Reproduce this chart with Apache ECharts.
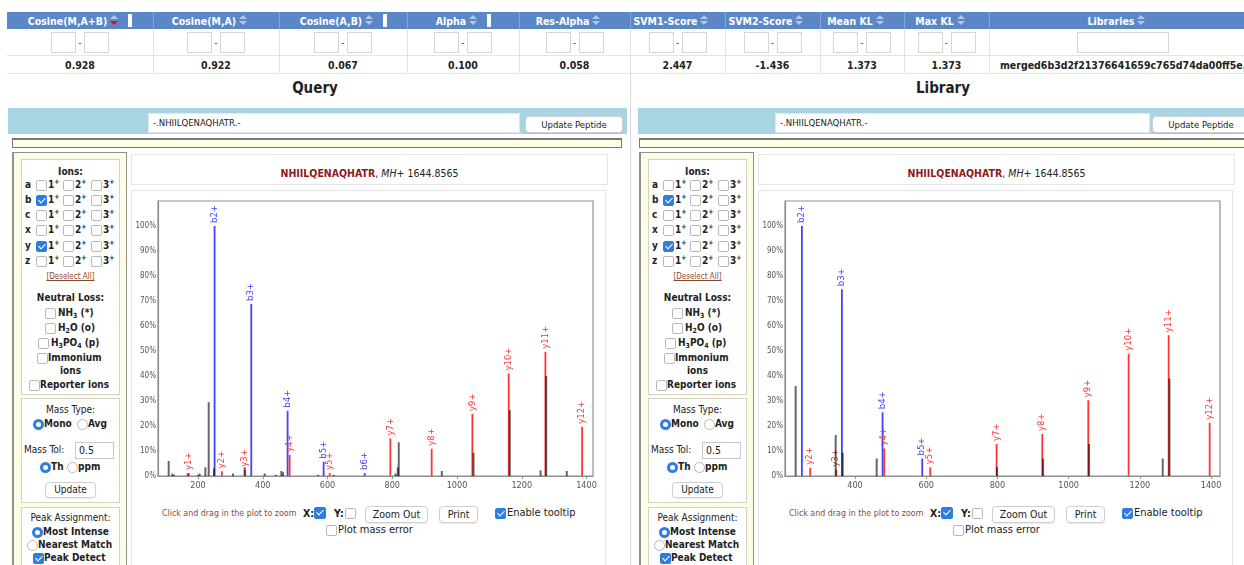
<!DOCTYPE html>
<html><head><meta charset="utf-8">
<script src="https://cdn.jsdelivr.net/npm/echarts@6/dist/echarts.min.js"></script>
<style>
body{margin:0;width:1244px;height:565px;overflow:hidden;background:#fff;position:relative;font-family:"DejaVu Sans Condensed","DejaVu Sans",sans-serif;color:#222}
.a{position:absolute;white-space:nowrap;box-sizing:border-box}
.t{position:absolute;white-space:nowrap;line-height:14px;height:14px;font-size:10px}
.c{transform:translateX(-50%)}
.b{font-weight:bold}
input.cb,input.rd{appearance:none;-webkit-appearance:none;position:absolute;margin:0;width:11px;height:11px;border:1px solid #b8b8b8;border-radius:2px;background:#fff;box-sizing:border-box}
input.cb:checked{background:#2f7de1;border-color:#2f7de1}
input.cb:checked::after{content:'';position:absolute;left:3px;top:0px;width:3px;height:6px;border:solid #fff;border-width:0 1.5px 1.5px 0;transform:rotate(45deg)}
input.rd{border-radius:50%}
input.rd:checked{border:3.5px solid #2f7de1;background:#fff}
.btn{position:absolute;box-sizing:border-box;background:#fff;border:1px solid #cfcfcf;border-radius:4px;font-size:10px;text-align:center;color:#222;box-shadow:0 1px 1px rgba(0,0,0,0.08)}
.hd{position:absolute;top:12px;height:17px;display:flex;align-items:center;justify-content:center;color:#fff;font-weight:bold;font-size:10.5px;box-sizing:border-box;border-left:1px solid #86a6d6}
.ar{display:inline-block;width:8px;height:11px;position:relative;margin-left:3px}
.ar i{position:absolute;left:0;width:0;height:0;border-left:4px solid transparent;border-right:4px solid transparent}
.ar .u{top:0;border-bottom:4px solid #b3c6e6}
.ar .d{top:6px;border-top:4px solid #b3c6e6}
.ar .d.r{border-top-color:#e01010}
.wb{display:inline-block;width:4px;height:13px;background:#fff;margin-left:10px}
.wb.h{visibility:hidden}
.fb{position:absolute;box-sizing:border-box;width:25px;height:21px;border:1px solid #d6d6d6;background:#fff;top:32px}
.val{position:absolute;top:58px;line-height:14px;font-size:10.5px;font-weight:bold;transform:translateX(-50%);white-space:nowrap}
sup{font-size:7px;vertical-align:4px;line-height:0}
sub{font-size:7px;vertical-align:-2px;line-height:0}
</style>
</head><body>
<div id="chartQ" class="a" style="left:131px;top:190px;width:475px;height:310px;z-index:2"></div>
<div id="chartL" class="a" style="left:758px;top:190px;width:478px;height:310px;z-index:2"></div>
<script>
// ---------------- data ----------------
const tableHeaders = ["Cosine(M,A+B)","Cosine(M,A)","Cosine(A,B)","Alpha","Res-Alpha","SVM1-Score","SVM2-Score","Mean KL","Max KL","Libraries"];
const tableValues = ["0.928","0.922","0.067","0.100","0.058","2.447","-1.436","1.373","1.373","merged6b3d2f21376641659c765d74da00ff5e.mgf"];
const peptide = "NHIILQENAQHATR";
const precursorMH = "1644.8565";

// Query spectrum: unannotated peaks (m/z, relative intensity %)
const queryPeakMz  = [109.4,120.7,125.8,168,200,205,222.7,233,249.4,308,344,406,440,457.5,462.7,571,619,810,817,820,953,1051,1163,1258,1275.4,1339];
const queryPeakInt = [6,1,0.5,1,0.5,1,3.5,29.5,3,1,3.5,1,0.5,2,1.5,0.5,0.5,1,3.5,13.5,2,9.3,26.4,2.3,40,2];
// Query spectrum: annotated fragment ions
const queryIonLabels = ["y1+","b2+","y2+","y3+","b3+","b4+","y4+","b5+","y5+","b6+","y7+","y8+","y9+","y10+","y11+","y12+"];
const queryIonMz     = [172,251.5,274,346,364.8,477,483.3,588.3,607,715,794.4,922,1047.8,1160,1273.3,1386.7];
const queryIonInt    = [1.2,100,1.9,2.5,68.8,26.1,8.4,5.7,1.2,1.2,15,10.9,24.8,41,49.7,19.7];

// Library spectrum: unannotated peaks
const libPeakMz  = [233.3,345.7,365.4,460.9,798.9,928.1,1057.3,1264.2,1283];
const libPeakInt = [36,16.4,9.3,7,3.5,7,12.8,7,39];
// Library spectrum: annotated fragment ions
const libIonLabels = ["b2+","y2+","y3+","b3+","b4+","y4+","b5+","y5+","y7+","y8+","y9+","y10+","y11+","y12+"];
const libIonMz     = [251.1,274.5,347.6,363.5,477.7,482.4,589.1,611.6,797.9,926.2,1055.4,1168.7,1281.1,1396.3];
const libIonInt    = [100,3.3,2.5,74.7,25.5,11,7,3.5,12.8,16.8,30.3,48.9,56.3,21.3];

const queryXTicks = [200,400,600,800,1000,1200,1400];
const libXTicks   = [400,600,800,1000,1200,1400];
const yTicks      = [0,10,20,30,40,50,60,70,80,90,100];

// ---------------- page UI ----------------
const body = document.body;
function add(html){ body.insertAdjacentHTML('beforeend', html); }
function T(x,y,txt,cls,style){ add(`<div class="t ${cls||''}" style="left:${x}px;top:${y-7}px;${style||''}">${txt}</div>`); }
function box(x,y,w,h,style){ add(`<div class="a" style="left:${x}px;top:${y}px;width:${w}px;height:${h}px;${style||''}"></div>`); }
function cb(x,y,checked,size){ const s=size||11; add(`<input type="checkbox" class="cb" style="left:${x}px;top:${y-s/2}px;width:${s}px;height:${s}px" ${checked?'checked':''}>`); }
function rd(x,y,checked){ add(`<input type="radio" class="rd" style="left:${x}px;top:${y-5.5}px" ${checked?'checked':''}>`); }
function btn(x,y,w,h,txt,fs){ add(`<div class="btn" style="left:${x}px;top:${y}px;width:${w}px;height:${h}px;line-height:${h-2}px;font-size:${fs||10}px">${txt}</div>`); }

// table
const colB = [7,153,279,407,519,630,725,820,904,989,1257];
box(7,12,1250,17,'background:#5b87c6');
const bars = [true,false,true,true,false,false,false,false,false,false];
tableHeaders.forEach((h,i)=>{
  const l=colB[i], w=colB[i+1]-colB[i];
  add(`<div class="hd" style="left:${l}px;width:${w}px;${i===0?'border-left:none':''}">${h}<span class="ar"><i class="u"></i><i class="d ${i===0?'r':''}"></i></span><span class="wb ${bars[i]?'':'h'}"></span></div>`);
  const cx = l+w/2;
  if(i<9){
    add(`<div class="fb" style="left:${cx-29}px"></div>`);
    T(cx-1.5,43,'-','', 'font-size:9px');
    add(`<div class="fb" style="left:${cx+4}px"></div>`);
    add(`<div class="val" style="left:${cx}px">${tableValues[i]}</div>`);
  } else {
    add(`<div class="fb" style="left:${cx-46}px;width:92px"></div>`);
    add(`<div class="val" style="left:1000px;transform:none">${tableValues[i]}</div>`);
  }
  if(i>0) box(l,29,1,44,'background:#e2e2e2');
});
box(7,55,1250,1,'background:#e4e4e4');
box(7,73,1250,1,'background:#e4e4e4');
box(630,73,1,492,'background:#d8d8d8');

T(315,88,'Query','b c','font-size:15px;height:18px;line-height:18px;top:79px');
T(943,88,'Library','b c','font-size:15px;height:18px;line-height:18px;top:79px');

function side(dx, isRight){
  // peptide bar
  box(isRight?638:8,108,isRight?620:619,26,'background:#a8d4e4');
  box(148+dx,113,372+(isRight?3:0),20,'background:#fff;border:1px solid #dfe8ec');
  T(153+dx,123,'-.'+peptide+'.-','', 'font-size:9.5px');
  btn(525+dx,116,98,17,'Update Peptide',9.5);
  box(12+dx,138,610,10,'background:#ffffe6;border:1px solid #777;border-top-width:2px');
  // ions panel
  box(12+dx,152,115,440,'background:#fdfde6;border:1px solid #909090;border-left-width:2px');
  box(21+dx,159,99,236,'background:#fff;border:1px solid #d2d2c8');
  box(21+dx,398,99,105,'background:#fff;border:1px solid #d2d2c8');
  box(21+dx,507,99,80,'background:#fff;border:1px solid #d2d2c8');
  const cx = 70.5+dx;
  T(cx,172,'Ions:','b c');
  const rows=[['a',185,false],['b',200,true],['c',215,false],['x',230,false],['y',246,true],['z',261,false]];
  rows.forEach(r=>{
    T(25+dx,r[1],r[0],'b');
    cb(36+dx,r[1],r[2]); T(48+dx,r[1],'1<sup>+</sup>','b');
    cb(63+dx,r[1],false); T(75+dx,r[1],'2<sup>+</sup>','b');
    cb(91+dx,r[1],false); T(103+dx,r[1],'3<sup>+</sup>','b');
  });
  T(cx,277,'[Deselect All]','c','font-size:8px;color:#8b4a2b;text-decoration:underline');
  T(cx,298,'Neutral Loss:','b c');
  cb(45+dx,313,false); T(58+dx,313,'NH<sub>3</sub> (*)','b');
  cb(45+dx,328,false); T(58+dx,328,'H<sub>2</sub>O (o)','b');
  cb(38+dx,343,false); T(51+dx,343,'H<sub>3</sub>PO<sub>4</sub> (p)','b');
  cb(37+dx,358,false); T(48+dx,358,'Immonium','b');
  T(cx,371,'ions','b c');
  cb(29+dx,385,false); T(40+dx,385,'Reporter ions','b');
  T(cx,410,'Mass Type:','c');
  rd(33+dx,424,true); T(44+dx,424,'Mono','b');
  rd(77+dx,424,false); T(88+dx,424,'Avg','b');
  T(24+dx,450,'Mass Tol:','');
  box(75+dx,442,39,17,'background:#fff;border:1px solid #c8c8c8');
  T(79+dx,450,'0.5','', 'font-size:10.5px');
  rd(40+dx,467,true); T(51+dx,467,'Th','b');
  rd(67+dx,467,false); T(78+dx,467,'ppm','b');
  btn(45+dx,482,51,16,'Update',10);
  T(cx,518,'Peak Assignment:','c');
  rd(32+dx,532,true); T(43+dx,532,'Most Intense','b');
  rd(27+dx,545,false); T(38+dx,545,'Nearest Match','b');
  cb(33+dx,558,true); T(44+dx,558,'Peak Detect','b');
  // chart boxes
  box(131+dx,154,477,31,'border:1px solid #e6e6e6');
  T(369.5+dx,173,`<span style="color:#8b1a1a;font-weight:bold">${peptide}</span>, <i>MH+</i> ${precursorMH}`,'c','font-size:10.5px');
  box(131+dx,190,475,385,'border:1px solid #e6e6e6');
  // controls
  T(162+dx,513,'Click and drag in the plot to zoom','', 'font-size:8.8px;color:#8b4a3a');
  T(303+dx,513,'X:','b','font-size:10.5px');
  cb(314+dx,513,true,12);
  T(334+dx,513,'Y:','b','font-size:10.5px');
  cb(345+dx,513,false,11);
  btn(365+dx,506,63,17,'Zoom Out',10.5);
  btn(439+dx,506,39,17,'Print',10.5);
  cb(495+dx,513,true,11); T(507+dx,513,'Enable tooltip','', 'font-size:11px');
  cb(326+dx,530,false,11); T(338+dx,530,'Plot mass error','', 'font-size:11px');
}
side(0,false);
side(627,true);

// ---------------- charts ----------------
const BLUE = '#4343ff', RED = '#ff3434';
const FONT = '"DejaVu Sans Condensed","DejaVu Sans",sans-serif';
function makeOption(peakMz, peakInt, ionMz, ionInt, ionLab, xMin, xMax, xTicks, gridRight){
  const ionData = ionMz.map((m,i)=>{
    const col = ionLab[i].charAt(0)==='b' ? BLUE : RED;
    return {value:[m, ionInt[i]], itemStyle:{color:col}, label:{color:col}};
  });
  const peakData = peakMz.map((m,i)=>[m, peakInt[i]]);
  return {
    animation:false,
    grid:{left:27,right:gridRight,top:11,bottom:24,show:true,borderColor:'#8f8f8f',borderWidth:1.2,backgroundColor:'#fff'},
    xAxis:{type:'value',min:xMin,max:xMax,
      axisLine:{show:true,onZero:false,lineStyle:{color:'#8f8f8f',width:1.2}},
      axisTick:{show:true,length:3,customValues:xTicks,lineStyle:{color:'#8f8f8f'}},
      axisLabel:{customValues:xTicks,formatter:v=>String(v),fontSize:9,color:'#555',margin:5,fontFamily:FONT},
      splitLine:{show:false}},
    yAxis:{type:'value',min:0,max:110,
      axisLine:{show:true,lineStyle:{color:'#8f8f8f',width:1.2}},
      axisTick:{show:false},
      axisLabel:{customValues:yTicks,formatter:v=>v+'%',fontSize:8,color:'#555',margin:2,fontFamily:FONT},
      splitLine:{show:false}},
    series:[
      {type:'bar',data:ionData,barWidth:1.8,barGap:'-100%',z:2,
        label:{show:true,position:'top',rotate:90,align:'left',verticalAlign:'middle',distance:3,fontSize:8.5,fontFamily:'"DejaVu Sans",sans-serif',
          formatter:p=>ionLab[p.dataIndex]}},
      {type:'bar',data:peakData,barWidth:2,barGap:'-100%',z:3,itemStyle:{color:'#000',opacity:0.6}}
    ]
  };
}
const cq = echarts.init(document.getElementById('chartQ'),null,{renderer:'canvas'});
cq.setOption(makeOption(queryPeakMz,queryPeakInt,queryIonMz,queryIonInt,queryIonLabels,76.4,1420,queryXTicks,13));
const cl = echarts.init(document.getElementById('chartL'),null,{renderer:'canvas'});
cl.setOption(makeOption(libPeakMz,libPeakInt,libIonMz,libIonInt,libIonLabels,203.4,1425,libXTicks,16));
</script>
</body></html>
